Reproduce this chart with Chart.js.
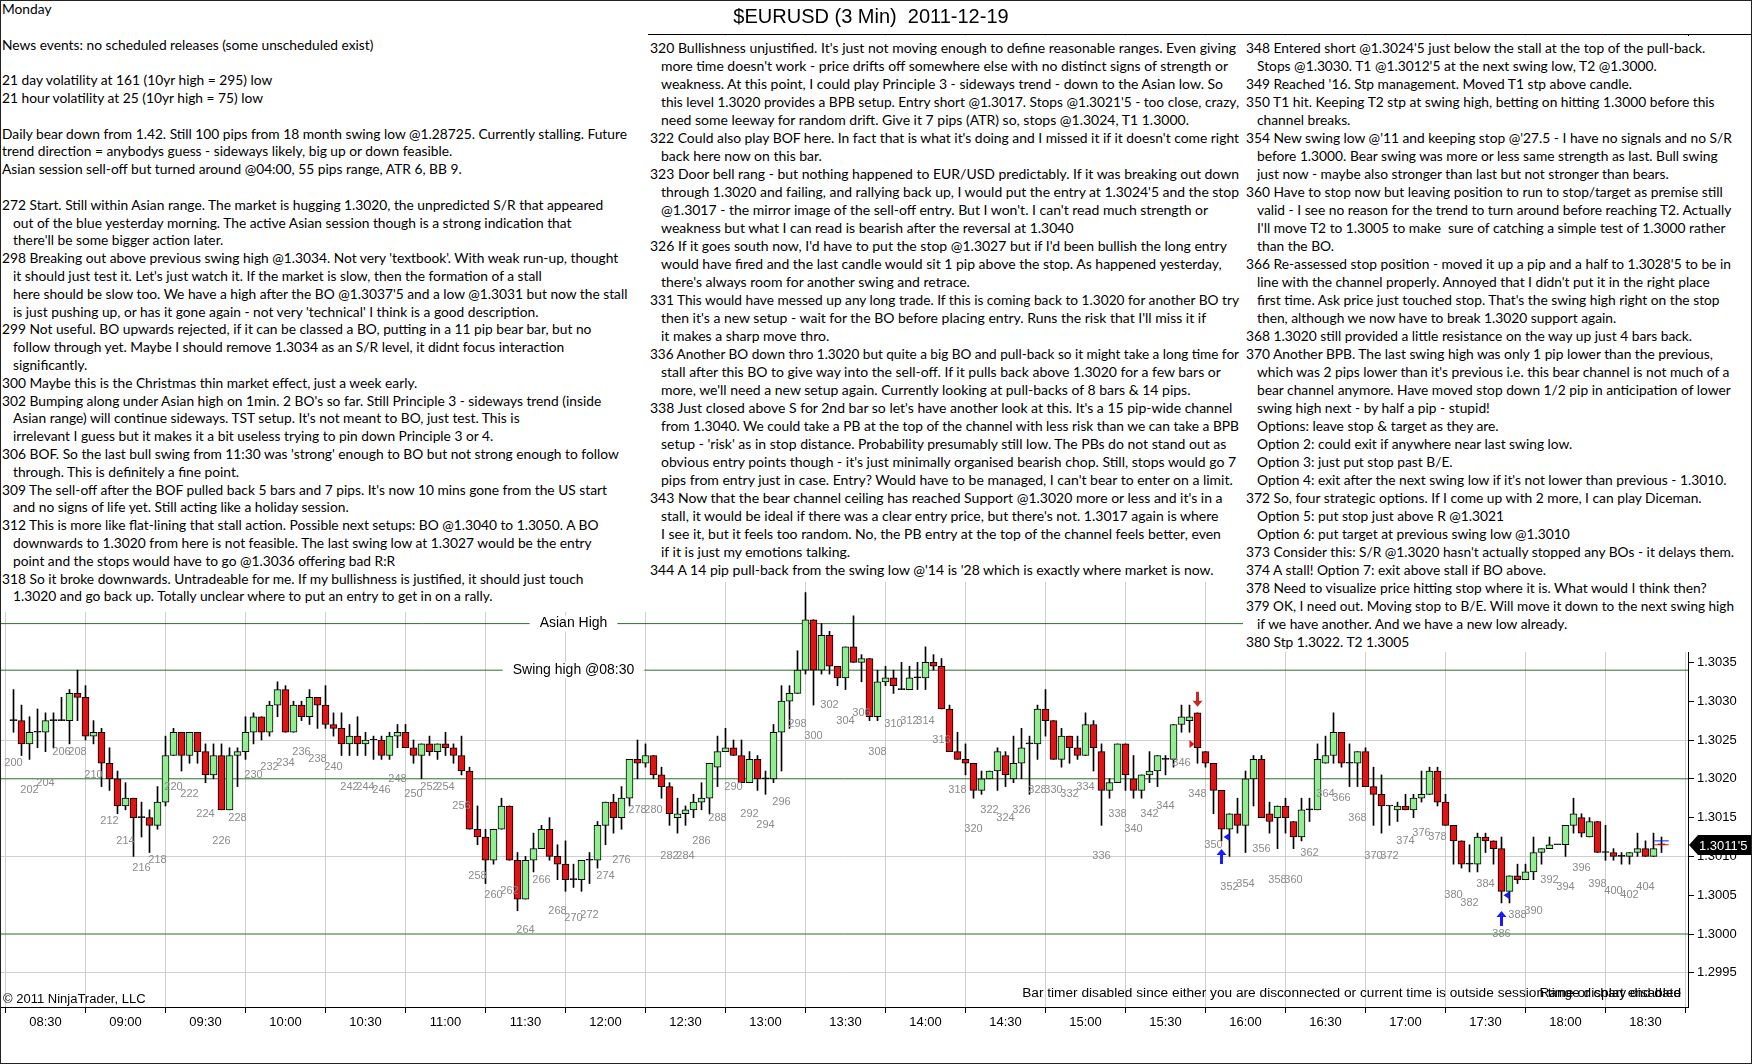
<!DOCTYPE html>
<html lang="en">
<head>
<meta charset="UTF-8">
<title>$EURUSD (3 Min) 2011-12-19</title>
<script src="https://cdn.jsdelivr.net/npm/chart.js"></script>
<style>
  body { margin: 0; background: #fff; }
  #wrap { position: relative; width: 1752px; height: 1064px; overflow: hidden; }
  #chart { position: absolute; left: 0; top: 0; }
  .note { position: absolute; box-sizing: border-box; background: #fff; color: #000;
          font-family: Lato, "Open Sans", sans-serif; overflow: hidden; }
  .note div { white-space: pre; }
  .note .i { padding-left: 11px; }
  #left { left: 0; top: 0; width: 648px; height: 612px; padding-left: 2px; font-size: 14px; line-height: 17.8px; }
  #mid { left: 645px; top: 36px; width: 598px; height: 546px; padding: 3px 0 0 5px; font-size: 13.8px; line-height: 18px; }
  #right { left: 1243px; top: 36px; width: 495px; height: 616px; padding: 3px 0 0 3px; font-size: 13.8px; line-height: 18px; }
  #frame { position: absolute; left: 0; top: 0; width: 1752px; height: 1064px; box-sizing: border-box;
           border: 1px solid #222; pointer-events: none; }
</style>
</head>
<body>
<div id="wrap">
<canvas id="chart" width="1752" height="1064"></canvas>

<div id="left" class="note">
<div>Monday</div>
<div> </div>
<div>News events: no scheduled releases (some unscheduled exist)</div>
<div> </div>
<div>21 day volatility at 161 (10yr high = 295) low</div>
<div>21 hour volatility at 25 (10yr high = 75) low</div>
<div> </div>
<div><span class="ref">Daily bear down from 1.42. Still 100 pips from 18 month swing low @1.28725. Currently stalling. Future</span></div>
<div>trend direction = anybodys guess - sideways likely, big up or down feasible.</div>
<div>Asian session sell-off but turned around @04:00, 55 pips range, ATR 6, BB 9.</div>
<div> </div>
<div>272 Start. Still within Asian range. The market is hugging 1.3020, the unpredicted S/R that appeared</div>
<div class="i">out of the blue yesterday morning. The active Asian session though is a strong indication that</div>
<div class="i">there'll be some bigger action later.</div>
<div>298 Breaking out above previous swing high @1.3034. Not very 'textbook'. With weak run-up, thought</div>
<div class="i">it should just test it. Let's just watch it. If the market is slow, then the formation of a stall</div>
<div class="i">here should be slow too. We have a high after the BO @1.3037'5 and a low @1.3031 but now the stall</div>
<div class="i">is just pushing up, or has it gone again - not very 'technical' I think is a good description.</div>
<div>299 Not useful. BO upwards rejected, if it can be classed a BO, putting in a 11 pip bear bar, but no</div>
<div class="i">follow through yet. Maybe I should remove 1.3034 as an S/R level, it didnt focus interaction</div>
<div class="i">significantly.</div>
<div>300 Maybe this is the Christmas thin market effect, just a week early.</div>
<div>302 Bumping along under Asian high on 1min. 2 BO's so far. Still Principle 3 - sideways trend (inside</div>
<div class="i">Asian range) will continue sideways. TST setup. It's not meant to BO, just test. This is</div>
<div class="i">irrelevant I guess but it makes it a bit useless trying to pin down Principle 3 or 4.</div>
<div>306 BOF. So the last bull swing from 11:30 was 'strong' enough to BO but not strong enough to follow</div>
<div class="i">through. This is definitely a fine point.</div>
<div>309 The sell-off after the BOF pulled back 5 bars and 7 pips. It's now 10 mins gone from the US start</div>
<div class="i">and no signs of life yet. Still acting like a holiday session.</div>
<div>312 This is more like flat-lining that stall action. Possible next setups: BO @1.3040 to 1.3050. A BO</div>
<div class="i">downwards to 1.3020 from here is not feasible. The last swing low at 1.3027 would be the entry</div>
<div class="i">point and the stops would have to go @1.3036 offering bad R:R</div>
<div>318 So it broke downwards. Untradeable for me. If my bullishness is justified, it should just touch</div>
<div class="i">1.3020 and go back up. Totally unclear where to put an entry to get in on a rally.</div>
</div>

<div id="mid" class="note">
<div><span class="ref">320 Bullishness unjustified. It's just not moving enough to define reasonable ranges. Even giving</span></div>
<div class="i">more time doesn't work - price drifts off somewhere else with no distinct signs of strength or</div>
<div class="i">weakness. At this point, I could play Principle 3 - sideways trend - down to the Asian low. So</div>
<div class="i">this level 1.3020 provides a BPB setup. Entry short @1.3017. Stops @1.3021'5 - too close, crazy,</div>
<div class="i">need some leeway for random drift. Give it 7 pips (ATR) so, stops @1.3024, T1 1.3000.</div>
<div>322 Could also play BOF here. In fact that is what it's doing and I missed it if it doesn't come right</div>
<div class="i">back here now on this bar.</div>
<div>323 Door bell rang - but nothing happened to EUR/USD predictably. If it was breaking out down</div>
<div class="i">through 1.3020 and failing, and rallying back up, I would put the entry at 1.3024'5 and the stop</div>
<div class="i">@1.3017 - the mirror image of the sell-off entry. But I won't. I can't read much strength or</div>
<div class="i">weakness but what I can read is bearish after the reversal at 1.3040</div>
<div>326 If it goes south now, I'd have to put the stop @1.3027 but if I'd been bullish the long entry</div>
<div class="i">would have fired and the last candle would sit 1 pip above the stop. As happened yesterday,</div>
<div class="i">there's always room for another swing and retrace.</div>
<div>331 This would have messed up any long trade. If this is coming back to 1.3020 for another BO try</div>
<div class="i">then it's a new setup - wait for the BO before placing entry. Runs the risk that I'll miss it if</div>
<div class="i">it makes a sharp move thro.</div>
<div>336 Another BO down thro 1.3020 but quite a big BO and pull-back so it might take a long time for</div>
<div class="i">stall after this BO to give way into the sell-off. If it pulls back above 1.3020 for a few bars or</div>
<div class="i">more, we'll need a new setup again. Currently looking at pull-backs of 8 bars &amp; 14 pips.</div>
<div>338 Just closed above S for 2nd bar so let's have another look at this. It's a 15 pip-wide channel</div>
<div class="i">from 1.3040. We could take a PB at the top of the channel with less risk than we can take a BPB</div>
<div class="i">setup - 'risk' as in stop distance. Probability presumably still low. The PBs do not stand out as</div>
<div class="i">obvious entry points though - it's just minimally organised bearish chop. Still, stops would go 7</div>
<div class="i">pips from entry just in case. Entry? Would have to be managed, I can't bear to enter on a limit.</div>
<div>343 Now that the bear channel ceiling has reached Support @1.3020 more or less and it's in a</div>
<div class="i">stall, it would be ideal if there was a clear entry price, but there's not. 1.3017 again is where</div>
<div class="i">I see it, but it feels too random. No, the PB entry at the top of the channel feels better, even</div>
<div class="i">if it is just my emotions talking.</div>
<div>344 A 14 pip pull-back from the swing low @'14 is '28 which is exactly where market is now.</div>
</div>

<div id="right" class="note">
<div><span class="ref">348 Entered short @1.3024'5 just below the stall at the top of the pull-back.</span></div>
<div class="i">Stops @1.3030. T1 @1.3012'5 at the next swing low, T2 @1.3000.</div>
<div>349 Reached '16. Stp management. Moved T1 stp above candle.</div>
<div>350 T1 hit. Keeping T2 stp at swing high, betting on hitting 1.3000 before this</div>
<div class="i">channel breaks.</div>
<div>354 New swing low @'11 and keeping stop @'27.5 - I have no signals and no S/R</div>
<div class="i">before 1.3000. Bear swing was more or less same strength as last. Bull swing</div>
<div class="i">just now - maybe also stronger than last but not stronger than bears.</div>
<div>360 Have to stop now but leaving position to run to stop/target as premise still</div>
<div class="i">valid - I see no reason for the trend to turn around before reaching T2. Actually</div>
<div class="i">I'll move T2 to 1.3005 to make  sure of catching a simple test of 1.3000 rather</div>
<div class="i">than the BO.</div>
<div>366 Re-assessed stop position - moved it up a pip and a half to 1.3028'5 to be in</div>
<div class="i">line with the channel properly. Annoyed that I didn't put it in the right place</div>
<div class="i">first time. Ask price just touched stop. That's the swing high right on the stop</div>
<div class="i">then, although we now have to break 1.3020 support again.</div>
<div>368 1.3020 still provided a little resistance on the way up just 4 bars back.</div>
<div>370 Another BPB. The last swing high was only 1 pip lower than the previous,</div>
<div class="i">which was 2 pips lower than it's previous i.e. this bear channel is not much of a</div>
<div class="i">bear channel anymore. Have moved stop down 1/2 pip in anticipation of lower</div>
<div class="i">swing high next - by half a pip - stupid!</div>
<div class="i">Options: leave stop &amp; target as they are.</div>
<div class="i">Option 2: could exit if anywhere near last swing low.</div>
<div class="i">Option 3: just put stop past B/E.</div>
<div class="i">Option 4: exit after the next swing low if it's not lower than previous - 1.3010.</div>
<div>372 So, four strategic options. If I come up with 2 more, I can play Diceman.</div>
<div class="i">Option 5: put stop just above R @1.3021</div>
<div class="i">Option 6: put target at previous swing low @1.3010</div>
<div>373 Consider this: S/R @1.3020 hasn't actually stopped any BOs - it delays them.</div>
<div>374 A stall! Option 7: exit above stall if BO above.</div>
<div>378 Need to visualize price hitting stop where it is. What would I think then?</div>
<div>379 OK, I need out. Moving stop to B/E. Will move it down to the next swing high</div>
<div class="i">if we have another. And we have a new low already.</div>
<div>380 Stp 1.3022. T2 1.3005</div>
</div>

<div id="frame"></div>
</div>

<script>
    // 3 minute bars, numbered as on the chart (first bar = 200)
    const firstBar = 200;

    const opens = [
        1.30275, 1.30275, 1.30245, 1.3026, 1.3026, 1.30275, 1.30275, 1.30275, 1.3031, 1.30305,
        1.30255, 1.3026, 1.3022, 1.3020, 1.30165, 1.30175, 1.3015, 1.3015, 1.3014, 1.3017,
        1.3023, 1.3026, 1.3023, 1.3026, 1.30235, 1.30205, 1.3023, 1.3016, 1.3023, 1.30235,
        1.3026, 1.3028, 1.3026, 1.30295, 1.30315, 1.3026, 1.30295, 1.3028, 1.30305, 1.30295,
        1.3027, 1.30265, 1.30245, 1.30255, 1.30245, 1.3025, 1.3025, 1.3023, 1.30255, 1.3026,
        1.3024, 1.3023, 1.30245, 1.30235, 1.30245, 1.3024, 1.3023, 1.3021, 1.30135, 1.30125,
        1.30095, 1.30135, 1.30165, 1.30095, 1.30045, 1.30095, 1.3011, 1.30135, 1.3010, 1.3009,
        1.3007, 1.3007, 1.30095, 1.30095, 1.3014, 1.3017, 1.3015, 1.30175, 1.30225, 1.3022,
        1.3023, 1.30205, 1.3019, 1.3015, 1.30155, 1.3016, 1.3017, 1.30175, 1.30215, 1.30235,
        1.3024, 1.3023, 1.30195, 1.30225, 1.3020, 1.3020, 1.3026, 1.3030, 1.3031, 1.3034,
        1.30405, 1.3034, 1.30385, 1.30345, 1.3033, 1.3037, 1.3035, 1.30355, 1.3028, 1.30325,
        1.3033, 1.30315, 1.30315, 1.3033, 1.3033, 1.3035, 1.30345, 1.3029, 1.30235, 1.30225,
        1.3022, 1.30185, 1.3020, 1.3021, 1.3023, 1.3020, 1.3022, 1.30245, 1.30245, 1.3029,
        1.30275, 1.30225, 1.30255, 1.3024, 1.3023, 1.3027, 1.30235, 1.30185, 1.30195, 1.30245,
        1.3020, 1.30185, 1.30205, 1.3021, 1.30225, 1.30225, 1.3027, 1.30275, 1.30285, 1.30235,
        1.3022, 1.30185, 1.30135, 1.30155, 1.3014, 1.3020, 1.30225, 1.30155, 1.3015, 1.30165,
        1.30145, 1.30125, 1.3016, 1.3016, 1.3022, 1.3023, 1.3026, 1.3022, 1.3022, 1.30235,
        1.3019, 1.3018, 1.30165, 1.3016, 1.30165, 1.3016, 1.30175, 1.3018, 1.3021, 1.3017,
        1.3014, 1.3012, 1.3009, 1.3009, 1.30125, 1.3012, 1.3011, 1.30055, 1.30075, 1.3007,
        1.3008, 1.30105, 1.3011, 1.30115, 1.30115, 1.3014, 1.3015, 1.30125, 1.30145, 1.30105,
        1.30105, 1.3010, 1.3010, 1.30105, 1.3011, 1.3010, 1.30115
    ];
    const highs = [
        1.30315, 1.30295, 1.3028, 1.3029, 1.30285, 1.30285, 1.30305, 1.30315, 1.3034, 1.3032,
        1.30275, 1.30265, 1.3024, 1.3021, 1.30195, 1.30175, 1.3017, 1.3016, 1.3019, 1.30255,
        1.30265, 1.3026, 1.3026, 1.3026, 1.30245, 1.30245, 1.30245, 1.3024, 1.3024, 1.3028,
        1.30285, 1.3028, 1.3030, 1.30325, 1.3032, 1.3030, 1.3030, 1.30315, 1.30305, 1.3032,
        1.30285, 1.30285, 1.3027, 1.3028, 1.3026, 1.30255, 1.30255, 1.3026, 1.3027, 1.3027,
        1.3025, 1.30245, 1.30255, 1.30245, 1.3026, 1.30245, 1.30255, 1.30215, 1.30165, 1.30135,
        1.30135, 1.30175, 1.30165, 1.30105, 1.3010, 1.3013, 1.3014, 1.3015, 1.30115, 1.3012,
        1.3009, 1.30095, 1.30105, 1.30145, 1.3017, 1.3018, 1.3019, 1.30225, 1.3025, 1.30245,
        1.3023, 1.30215, 1.30195, 1.30175, 1.30165, 1.3018, 1.30195, 1.3022, 1.30255, 1.30265,
        1.3025, 1.3025, 1.30235, 1.3023, 1.3021, 1.3027, 1.3032, 1.3032, 1.30365, 1.3044,
        1.30405, 1.3040, 1.3039, 1.30345, 1.3037, 1.3041, 1.3036, 1.30355, 1.3034, 1.30345,
        1.3034, 1.3035, 1.30345, 1.3035, 1.3037, 1.3036, 1.30355, 1.30295, 1.3026, 1.30245,
        1.3022, 1.3021, 1.3021, 1.3024, 1.30235, 1.30255, 1.30265, 1.30255, 1.30295, 1.30315,
        1.30275, 1.30265, 1.30255, 1.30255, 1.30285, 1.30275, 1.30245, 1.3020, 1.30245, 1.30245,
        1.3023, 1.30205, 1.30235, 1.3023, 1.3023, 1.3027, 1.30295, 1.30295, 1.30285, 1.30235,
        1.3022, 1.30185, 1.30155, 1.30175, 1.3021, 1.3023, 1.3023, 1.3017, 1.30165, 1.30175,
        1.30145, 1.30175, 1.30175, 1.30245, 1.30255, 1.30285, 1.3026, 1.30245, 1.30235, 1.3024,
        1.30215, 1.30205, 1.30165, 1.3017, 1.3018, 1.3018, 1.3021, 1.30215, 1.30215, 1.3018,
        1.3014, 1.3012, 1.30115, 1.3013, 1.3013, 1.3012, 1.30125, 1.30075, 1.3009, 1.3009,
        1.30125, 1.3011, 1.30125, 1.30115, 1.3014, 1.30175, 1.30155, 1.3015, 1.30145, 1.3014,
        1.3011, 1.30105, 1.30105, 1.3013, 1.3012, 1.3013, 1.30125
    ];
    const lows = [
        1.3026, 1.3023, 1.30225, 1.3024, 1.30235, 1.3024, 1.30275, 1.30245, 1.30275, 1.3025,
        1.30245, 1.3019, 1.30185, 1.30155, 1.3016, 1.3010, 1.30125, 1.30105, 1.30135, 1.30165,
        1.3023, 1.3021, 1.3022, 1.3022, 1.30195, 1.3020, 1.3016, 1.3016, 1.3019, 1.30225,
        1.30245, 1.3025, 1.30255, 1.3028, 1.3026, 1.3026, 1.30275, 1.3027, 1.30265, 1.30265,
        1.30255, 1.3023, 1.3023, 1.3023, 1.3023, 1.30225, 1.30225, 1.30225, 1.3024, 1.3024,
        1.3022, 1.3020, 1.3023, 1.30225, 1.3023, 1.3022, 1.30205, 1.30135, 1.30115, 1.30065,
        1.3009, 1.30135, 1.30095, 1.3003, 1.30045, 1.3008, 1.3011, 1.30095, 1.3007, 1.30055,
        1.3006, 1.30055, 1.30065, 1.30085, 1.30115, 1.3013, 1.30135, 1.30165, 1.3020, 1.30215,
        1.3020, 1.30175, 1.3014, 1.3013, 1.3014, 1.3015, 1.3016, 1.30155, 1.3019, 1.30235,
        1.3023, 1.30195, 1.30195, 1.30185, 1.3018, 1.30195, 1.3021, 1.30265, 1.3031, 1.30335,
        1.30295, 1.30335, 1.30335, 1.3032, 1.30315, 1.3035, 1.30325, 1.30275, 1.30275, 1.3032,
        1.3031, 1.30315, 1.30315, 1.30315, 1.30315, 1.3034, 1.3029, 1.30235, 1.30225, 1.30205,
        1.30175, 1.3018, 1.3020, 1.30185, 1.3019, 1.30195, 1.3020, 1.3018, 1.30225, 1.30255,
        1.30225, 1.30215, 1.3022, 1.30225, 1.3023, 1.3021, 1.3014, 1.30175, 1.30195, 1.30185,
        1.30175, 1.30175, 1.30195, 1.3019, 1.30205, 1.30215, 1.3026, 1.3026, 1.3022, 1.30215,
        1.30155, 1.3012, 1.3010, 1.3013, 1.30105, 1.30165, 1.3015, 1.3013, 1.3011, 1.3013,
        1.3011, 1.3012, 1.30145, 1.3016, 1.3022, 1.3022, 1.30215, 1.3019, 1.3019, 1.3019,
        1.3014, 1.3013, 1.3014, 1.30145, 1.3016, 1.3015, 1.3017, 1.3018, 1.30165, 1.3014,
        1.3009, 1.30085, 1.3008, 1.3008, 1.30105, 1.3009, 1.3004, 1.3004, 1.30065, 1.3007,
        1.3007, 1.3009, 1.3011, 1.30115, 1.3010, 1.3013, 1.30125, 1.30125, 1.30105, 1.30095,
        1.30095, 1.3009, 1.3009, 1.3010, 1.3010, 1.3010, 1.30105
    ];
    const closes = [
        1.30275, 1.30245, 1.3026, 1.3026, 1.30275, 1.30275, 1.30275, 1.3031, 1.30305, 1.30255,
        1.3026, 1.3022, 1.3020, 1.30165, 1.30175, 1.3015, 1.3015, 1.3014, 1.3017, 1.3023,
        1.3026, 1.3023, 1.3026, 1.30235, 1.30205, 1.3023, 1.3016, 1.3023, 1.30235, 1.3026,
        1.3028, 1.3026, 1.30295, 1.30315, 1.3026, 1.30295, 1.3028, 1.30305, 1.30295, 1.3027,
        1.30265, 1.30245, 1.30255, 1.30245, 1.3025, 1.3025, 1.3023, 1.30255, 1.3026, 1.3024,
        1.3023, 1.30245, 1.30235, 1.30245, 1.3024, 1.3023, 1.3021, 1.30135, 1.30125, 1.30095,
        1.30135, 1.30165, 1.30095, 1.30045, 1.30095, 1.3011, 1.30135, 1.3010, 1.3009, 1.3007,
        1.3007, 1.30095, 1.30095, 1.3014, 1.3017, 1.3015, 1.30175, 1.30225, 1.3022, 1.3023,
        1.30205, 1.3019, 1.30155, 1.30155, 1.3016, 1.3017, 1.30175, 1.3022, 1.30235, 1.3024,
        1.3023, 1.30195, 1.30225, 1.3020, 1.3020, 1.3026, 1.3030, 1.3031, 1.3034, 1.30405,
        1.3034, 1.30385, 1.30345, 1.3033, 1.3037, 1.3035, 1.30355, 1.3028, 1.30325, 1.3033,
        1.3032, 1.30315, 1.3033, 1.3033, 1.3035, 1.30345, 1.3029, 1.30235, 1.30225, 1.3022,
        1.30185, 1.3020, 1.3021, 1.30235, 1.30205, 1.3022, 1.3024, 1.30245, 1.3029, 1.30275,
        1.30225, 1.30255, 1.3024, 1.3023, 1.3027, 1.3024, 1.30185, 1.30195, 1.30245, 1.30205,
        1.30185, 1.30205, 1.3021, 1.3023, 1.30225, 1.3027, 1.3028, 1.3028, 1.3024, 1.3022,
        1.30185, 1.30135, 1.30155, 1.3014, 1.3020, 1.30225, 1.3015, 1.30145, 1.30165, 1.3015,
        1.30125, 1.3016, 1.3016, 1.30225, 1.3023, 1.3026, 1.3022, 1.3022, 1.30235, 1.3019,
        1.3018, 1.30165, 1.30165, 1.30165, 1.3016, 1.30175, 1.3018, 1.3021, 1.3017, 1.3014,
        1.3012, 1.3009, 1.3009, 1.30125, 1.3012, 1.3011, 1.30055, 1.30075, 1.3007, 1.3008,
        1.30105, 1.3011, 1.30115, 1.30115, 1.3014, 1.30155, 1.3013, 1.30145, 1.30105, 1.30105,
        1.3010, 1.3010, 1.30105, 1.3011, 1.3010, 1.3011, 1.30115
    ];

    // time axis: bar number at each 30 minute mark
    const timeTickBars = [204, 214, 224, 234, 244, 254, 264, 274, 284, 294, 304,
                          314, 324, 334, 344, 354, 364, 374, 384, 394, 404];
    const timeTickLabels = ['08:30', '09:00', '09:30', '10:00', '10:30', '11:00', '11:30', '12:00',
                            '12:30', '13:00', '13:30', '14:00', '14:30', '15:00', '15:30', '16:00',
                            '16:30', '17:00', '17:30', '18:00', '18:30'];
    const priceTicks = [1.2995, 1.3000, 1.3005, 1.3010, 1.3015, 1.3020, 1.3025, 1.3030, 1.3035];
    const gridPrices = [1.2995, 1.3010, 1.3025];

    // horizontal S/R lines
    const levelPrices = [1.3040, 1.3034, 1.3020, 1.3000];
    const levelLabels = ['Asian High', 'Swing high @08:30', '', ''];
    const levelLabelBar = 270;

    // trade markers
    const entryBars = [348];
    const entryPrices = [1.30245];
    const exitBars = [351, 386];
    const exitPrices = [1.30125, 1.3005];

    const lastPrice = 1.30115;
    const lastPriceLabel = "1.3011'5";
    const askPrice = 1.3012;
    const bidPrice = 1.30115;

    const xMin = 198.4375;
    const xMax = 409.3125;
    const yMin = 1.2990593;
    const yMax = 1.3115979;

    const FONT = '"Liberation Sans", Arial, sans-serif';
    Chart.defaults.font.family = FONT;
    Chart.defaults.color = '#000';

    const barNumbers = opens.map((o, i) => firstBar + i);
    const wickData = barNumbers.map((n, i) => ({ x: n, y: [lows[i], highs[i]] }));
    const bodyData = barNumbers.map((n, i) => ({ x: n, y: [Math.min(opens[i], closes[i]), Math.max(opens[i], closes[i])] }));
    const bodyColors = barNumbers.map((n, i) => closes[i] > opens[i] ? '#90ee90' : (closes[i] < opens[i] ? '#dd1515' : '#000'));

    const levelSets = levelPrices.map(p => ({
        type: 'line',
        data: [{ x: xMin, y: p }, { x: xMax, y: p }],
        borderColor: '#2d6e2d',
        borderWidth: 1,
        pointRadius: 0,
        order: 10
    }));

    const lastBar = barNumbers[barNumbers.length - 1];
    const quoteSets = [
        { type: 'line', data: [{ x: lastBar - 0.9, y: askPrice }, { x: lastBar + 0.9, y: askPrice }],
          borderColor: '#1a1aff', borderWidth: 1, pointRadius: 0, order: 0 },
        { type: 'line', data: [{ x: lastBar - 0.9, y: bidPrice }, { x: lastBar + 0.9, y: bidPrice }],
          borderColor: '#dd1515', borderWidth: 1, pointRadius: 0, order: 0 }
    ];

    function drawArrow(ctx, x, tipY, dir, color) {
        // dir = 1 points down, -1 points up
        ctx.fillStyle = color;
        ctx.beginPath();
        ctx.moveTo(x, tipY);
        ctx.lineTo(x - 5, tipY - dir * 6);
        ctx.lineTo(x - 1.5, tipY - dir * 6);
        ctx.lineTo(x - 1.5, tipY - dir * 15);
        ctx.lineTo(x + 1.5, tipY - dir * 15);
        ctx.lineTo(x + 1.5, tipY - dir * 6);
        ctx.lineTo(x + 5, tipY - dir * 6);
        ctx.closePath();
        ctx.fill();
    }

    const overlay = {
        id: 'overlay',
        afterDatasetsDraw(chart) {
            const ctx = chart.ctx;
            const x = chart.scales.x;
            const y = chart.scales.y;
            ctx.save();

            // bar numbers under every second bar
            ctx.font = '11px ' + FONT;
            ctx.fillStyle = '#8a8a8a';
            ctx.textAlign = 'center';
            ctx.textBaseline = 'middle';
            barNumbers.forEach((n, i) => {
                if (n % 2 === 0 && n <= 404) {
                    ctx.fillText(String(n), x.getPixelForValue(n), y.getPixelForValue(lows[i]) + 31);
                }
            });

            // labels on the S/R lines
            ctx.font = '14px ' + FONT;
            levelPrices.forEach((p, i) => {
                if (!levelLabels[i]) return;
                const cx = x.getPixelForValue(levelLabelBar);
                const cy = y.getPixelForValue(p);
                const w = ctx.measureText(levelLabels[i]).width;
                ctx.fillStyle = '#fff';
                ctx.fillRect(cx - w / 2 - 10, cy - 8, w + 20, 16);
                ctx.fillStyle = '#000';
                ctx.fillText(levelLabels[i], cx, cy);
            });

            // entry: red arrow above the bar, small red triangle at the fill price
            entryBars.forEach((b, i) => {
                const bx = x.getPixelForValue(b);
                drawArrow(ctx, bx, y.getPixelForValue(highs[b - firstBar]) - 6, 1, '#c62828');
                const py = y.getPixelForValue(entryPrices[i]);
                ctx.fillStyle = '#dd1515';
                ctx.beginPath();
                ctx.moveTo(bx - 3, py);
                ctx.lineTo(bx - 8, py - 4);
                ctx.lineTo(bx - 8, py + 4);
                ctx.closePath();
                ctx.fill();
            });

            // exits: blue arrow below the bar, small blue triangle at the fill price
            exitBars.forEach((b, i) => {
                const bx = x.getPixelForValue(b);
                drawArrow(ctx, bx, y.getPixelForValue(lows[b - firstBar]) + 8, -1, '#1a1aff');
                const py = y.getPixelForValue(exitPrices[i]);
                ctx.fillStyle = '#1a1aff';
                ctx.beginPath();
                ctx.moveTo(bx + 2, py);
                ctx.lineTo(bx + 8, py - 4);
                ctx.lineTo(bx + 8, py + 4);
                ctx.closePath();
                ctx.fill();
            });

            // status texts inside the panel
            ctx.fillStyle = '#000';
            ctx.font = '13px ' + FONT;
            ctx.textAlign = 'left';
            ctx.fillText('\u00a9 2011 NinjaTrader, LLC', 3, 999);
            ctx.font = '13.7px ' + FONT;
            ctx.textAlign = 'right';
            ctx.fillText('Bar timer disabled since either you are disconnected or current time is outside session time or chart end date', chart.chartArea.right - 7, 993);
            ctx.fillText('Range display disabled', chart.chartArea.right - 7, 993);
            ctx.restore();
        },
        afterDraw(chart) {
            const ctx = chart.ctx;
            const y = chart.scales.y;
            const area = chart.chartArea;
            ctx.save();

            // panel top border
            ctx.strokeStyle = '#000';
            ctx.lineWidth = 1;
            ctx.beginPath();
            ctx.moveTo(0, area.top + 0.5);
            ctx.lineTo(chart.width, area.top + 0.5);
            ctx.stroke();

            // title
            ctx.fillStyle = '#000';
            ctx.font = '20px ' + FONT;
            ctx.textAlign = 'center';
            ctx.textBaseline = 'middle';
            ctx.fillText('$EURUSD (3 Min)  2011-12-19', 871, 17);

            // last price marker on the price axis
            const py = Math.round(y.getPixelForValue(lastPrice));
            ctx.beginPath();
            ctx.moveTo(area.right + 1, py);
            ctx.lineTo(area.right + 10, py - 10);
            ctx.lineTo(chart.width, py - 10);
            ctx.lineTo(chart.width, py + 10);
            ctx.lineTo(area.right + 10, py + 10);
            ctx.closePath();
            ctx.fill();
            ctx.fillStyle = '#fff';
            ctx.font = '13px ' + FONT;
            ctx.textAlign = 'left';
            ctx.fillText(lastPriceLabel, area.right + 11, py + 1);
            ctx.restore();
        }
    };

    const ctx = document.getElementById('chart').getContext('2d');
    new Chart(ctx, {
        type: 'bar',
        data: {
            datasets: [
                ...levelSets,
                {
                    label: 'Wick',
                    data: wickData,
                    backgroundColor: '#000',
                    barThickness: 1,
                    grouped: false,
                    order: 5
                },
                {
                    label: 'Body',
                    data: bodyData,
                    backgroundColor: bodyColors,
                    borderColor: '#000',
                    borderWidth: 1,
                    borderSkipped: false,
                    barThickness: 7,
                    minBarLength: 1,
                    grouped: false,
                    order: 1
                },
                ...quoteSets
            ]
        },
        options: {
            responsive: false,
            animation: false,
            devicePixelRatio: 1,
            layout: { padding: { top: 34, left: 1, right: 0, bottom: 0 } },
            plugins: {
                legend: { display: false },
                tooltip: { enabled: false }
            },
            scales: {
                x: {
                    type: 'linear',
                    offset: false,
                    min: xMin,
                    max: xMax,
                    afterBuildTicks: (scale) => { scale.ticks = timeTickBars.map(v => ({ value: v })); },
                    afterFit: (scale) => { scale.height = 57; },
                    grid: { color: '#cfcfcf', tickColor: '#000', tickLength: 6 },
                    border: { color: '#000' },
                    ticks: {
                        autoSkip: false,
                        maxRotation: 0,
                        padding: 2,
                        font: { size: 13 },
                        callback: (v) => {
                            const k = timeTickBars.indexOf(v);
                            return k >= 0 ? timeTickLabels[k] : '';
                        }
                    }
                },
                y: {
                    position: 'right',
                    min: yMin,
                    max: yMax,
                    afterBuildTicks: (scale) => { scale.ticks = priceTicks.map(v => ({ value: v })); },
                    afterFit: (scale) => { scale.width = 64; },
                    grid: {
                        color: (c) => (c.tick && gridPrices.some(p => Math.abs(p - c.tick.value) < 1e-7)) ? '#cfcfcf' : 'rgba(0,0,0,0)',
                        tickColor: '#000',
                        tickLength: 6
                    },
                    border: { color: '#000' },
                    ticks: {
                        autoSkip: false,
                        padding: 3,
                        font: { size: 13 },
                        callback: (v) => Number(v).toFixed(4)
                    }
                }
            }
        },
        plugins: [overlay]
    });

    // match the width of each note block to the original layout
    function fitNote(id, targetWidth, maxRight) {
        const box = document.getElementById(id);
        const ref = box.querySelector('.ref');
        const base = parseFloat(getComputedStyle(box).fontSize);
        const w = ref.getBoundingClientRect().width;
        if (w > 0) box.style.fontSize = (base * targetWidth / w).toFixed(2) + 'px';
        // squeeze any line that would run into the next block
        box.querySelectorAll('div').forEach(line => {
            line.style.transform = '';
            const range = document.createRange();
            range.selectNodeContents(line);
            const r = range.getBoundingClientRect();
            if (r.width > 0 && r.right > maxRight) {
                const lineLeft = line.getBoundingClientRect().left;
                line.style.transformOrigin = (r.left - lineLeft) + 'px 0';
                line.style.transform = 'scaleX(' + ((maxRight - r.left) / r.width).toFixed(4) + ')';
            }
        });
    }
    function fitAll() {
        fitNote('left', 625, 642);
        fitNote('mid', 586, 1239);
        fitNote('right', 459, 1734);
    }
    fitAll();
    if (document.fonts && document.fonts.ready) document.fonts.ready.then(fitAll);
</script>
</body>
</html>
